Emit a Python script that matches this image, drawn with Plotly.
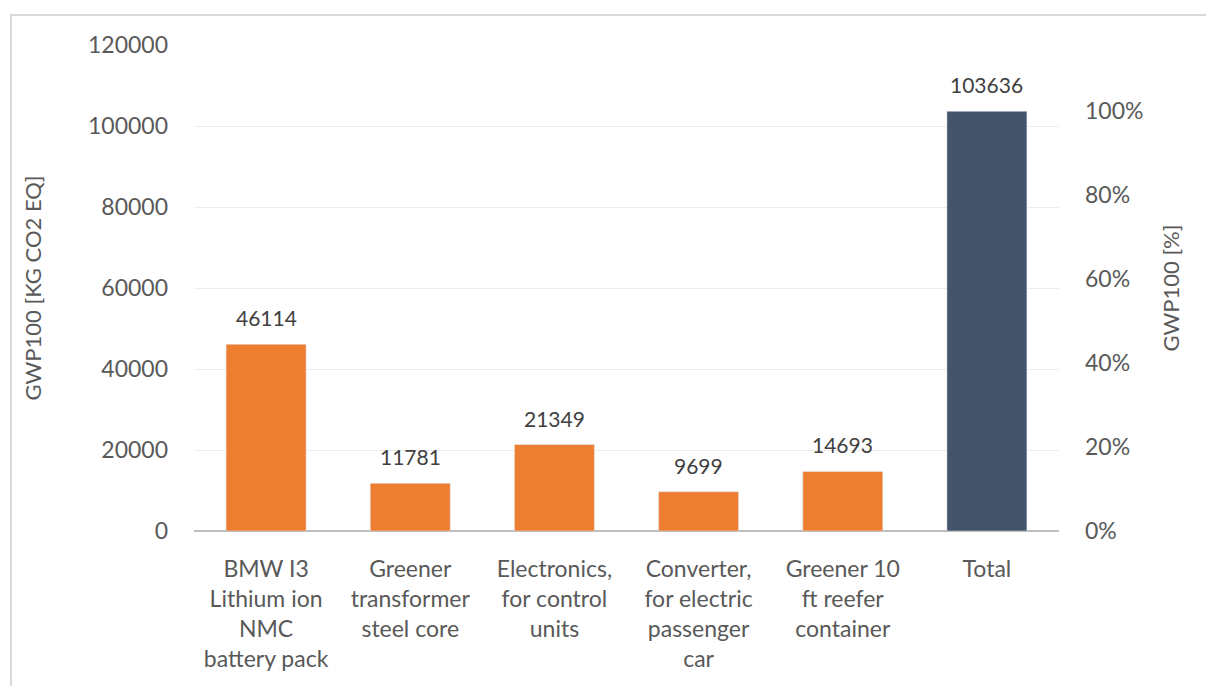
import plotly.graph_objects as go

categories = ["BMW I3<br>Lithium ion<br>NMC<br>battery pack",
              "Greener<br>transformer<br>steel core",
              "Electronics,<br>for control<br>units",
              "Converter,<br>for electric<br>passenger<br>car",
              "Greener 10<br>ft reefer<br>container",
              "Total"]
values = [46114, 11781, 21349, 9699, 14693, 103636]
colors = ["#ED7D31"] * 5 + ["#44546A"]
left_ticks = [0, 20000, 40000, 60000, 80000, 100000, 120000]
right_ticks = [0, 0.2, 0.4, 0.6, 0.8, 1.0]
right_labels = ["0%", "20%", "40%", "60%", "80%", "100%"]

total = values[-1]
ymax = 120000
font = "Lato, Open Sans, sans-serif"

fig = go.Figure()
fig.add_trace(go.Bar(
    x=categories, y=values, marker_color=colors, width=0.555,
    showlegend=False, hoverinfo="skip"))
fig.add_trace(go.Scatter(
    x=categories, y=[v / total for v in values], yaxis="y2",
    mode="markers", marker=dict(opacity=0), showlegend=False, hoverinfo="skip"))

for c, v in zip(categories, values):
    fig.add_annotation(x=c, y=v, text=str(v), showarrow=False, yanchor="bottom",
                       yshift=12, font=dict(size=21, color="#404040", family=font))

fig.update_layout(
    width=1206, height=686, paper_bgcolor="white", plot_bgcolor="white",
    margin=dict(l=194, r=147, t=45, b=155),
    bargap=0.445,
    font=dict(family=font, color="#595959", size=23),
    xaxis=dict(tickfont=dict(size=23, color="#595959"), showline=False,
               ticks="", showgrid=False, ticklabelstandoff=22),
    yaxis=dict(range=[0, ymax], tickvals=left_ticks, ticktext=[str(t) for t in left_ticks],
               showgrid=True, gridcolor="#EDEDED", gridwidth=1,
               zeroline=True, zerolinecolor="#BFBFBF", zerolinewidth=2,
               tickfont=dict(size=23, color="#595959"), ticklabelstandoff=25,
               title=dict(text="GWP100 [KG CO2 EQ]", font=dict(size=22, color="#595959"), standoff=40)),
    yaxis2=dict(range=[0, ymax / total], overlaying="y", side="right",
                tickvals=right_ticks, ticktext=right_labels, showgrid=False, zeroline=False,
                tickfont=dict(size=23, color="#595959"), ticklabelstandoff=25,
                title=dict(text="GWP100 [%]", font=dict(size=22, color="#595959"), standoff=21)),
    shapes=[dict(type="rect", xref="paper", yref="paper",
                 x0=(11 - 194) / 865, x1=2, y0=-1, y1=(531 - 15) / 486,
                 line=dict(color="#D9D9D9", width=2), fillcolor="rgba(0,0,0,0)", layer="below")],
)
fig.write_html("out.html")
